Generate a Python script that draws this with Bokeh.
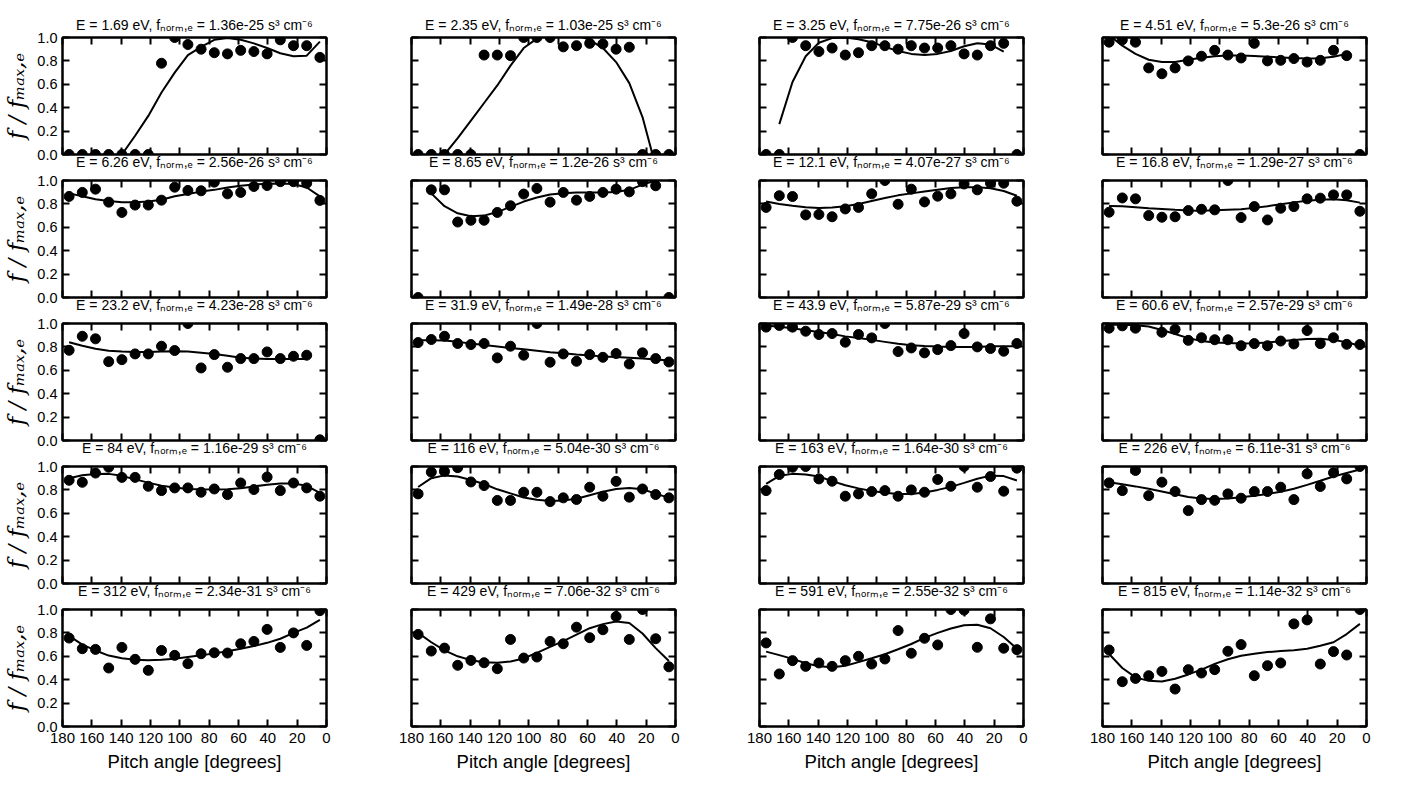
from bokeh.plotting import figure
from bokeh.layouts import column, row
from bokeh.models import Range1d, LinearAxis, FixedTicker, CustomJSTickFormatter, PrintfTickFormatter
from bokeh.embed import file_html
from bokeh.resources import INLINE

nan = float("nan")

# pitch-angle bin centres (degrees)
angles = [175.5, 166.5, 157.5, 148.5, 139.5, 130.5, 121.5, 112.5, 103.5, 94.5,
          85.5, 76.5, 67.5, 58.5, 49.5, 40.5, 31.5, 22.5, 13.5, 4.5]

energies = ["1.69", "2.35", "3.25", "4.51", "6.26", "8.65", "12.1", "16.8", "23.2", "31.9",
            "43.9", "60.6", "84", "116", "163", "226", "312", "429", "591", "815"]
fnorms = ["1.36e-25", "1.03e-25", "7.75e-26", "5.3e-26", "2.56e-26", "1.2e-26", "4.07e-27",
          "1.29e-27", "4.23e-28", "1.49e-28", "5.87e-29", "2.57e-29", "1.16e-29", "5.04e-30",
          "1.64e-30", "6.11e-31", "2.34e-31", "7.06e-32", "2.55e-32", "1.14e-32"]

xticks = [180, 160, 140, 120, 100, 80, 60, 40, 20, 0]
yticks = [0.0, 0.2, 0.4, 0.6, 0.8, 1.0]

pts_01 = [0, 0, 0, 0, 0, 0, 0, 0.78, 1.0, 0.94, 0.90, 0.87, 0.86, 0.89, 0.88, 0.86, 0.98, 0.93, 0.93, 0.83]
fit_01 = [-0.6, -0.4, -0.22, -0.08, 0.0, 0.16, 0.33, 0.53, 0.70, 0.85, 0.92, 0.98, 0.995, 0.98, 0.95, 0.91, 0.865, 0.84, 0.845, 0.965]
pts_02 = [0, 0, 0, 0, 0, 0.85, 0.85, 0.845, 1.0, 1.0, 1.0, 0.92, 0.93, 0.95, 0.945, 0.90, 0.917, 0, 0, 0]
fit_02 = [-0.3, -0.15, 0.0, 0.14, 0.29, 0.44, 0.59, 0.76, 0.91, 0.99, 1.02, 1.03, 1.02, 0.98, 0.91, 0.79, 0.61, 0.32, -0.1, -0.6]
pts_03 = [0, 0, 1.0, 0.93, 0.88, 0.91, 0.85, 0.87, 0.93, 0.93, 0.90, 0.93, 0.91, 0.91, 0.93, 0.86, 0.85, 0.93, 0.95, 0]
fit_03 = [nan, 0.26, 0.62, 0.84, 0.955, 0.995, 1.0, 0.985, 0.96, 0.92, 0.885, 0.86, 0.85, 0.86, 0.885, 0.925, 0.95, 0.94, 0.88, nan]
pts_04 = [0.96, 0.98, 0.96, 0.74, 0.69, 0.74, 0.80, 0.84, 0.89, 0.85, 0.825, 0.95, 0.80, 0.805, 0.82, 0.79, 0.805, 0.89, 0.845, 0.0]
fit_04 = [1.02, 0.93, 0.86, 0.81, 0.79, 0.79, 0.81, 0.826, 0.84, 0.847, 0.847, 0.842, 0.836, 0.83, 0.824, 0.82, 0.823, 0.835, 0.86, nan]
pts_05 = [0.864, 0.898, 0.926, 0.815, 0.727, 0.79, 0.79, 0.832, 0.943, 0.915, 0.912, 0.986, 0.886, 0.898, 0.949, 0.957, 0.99, 0.99, 0.977, 0.83]
fit_05 = [0.89, 0.865, 0.84, 0.825, 0.815, 0.815, 0.82, 0.835, 0.865, 0.885, 0.905, 0.92, 0.94, 0.955, 0.965, 0.972, 0.975, 0.97, 0.94, 0.865]
pts_06 = [0, 0.92, 0.92, 0.645, 0.66, 0.66, 0.727, 0.784, 0.884, 0.932, 0.815, 0.898, 0.832, 0.864, 0.898, 0.926, 0.903, 0.99, 0.955, 0]
fit_06 = [nan, 0.89, 0.78, 0.72, 0.695, 0.70, 0.73, 0.775, 0.82, 0.855, 0.88, 0.89, 0.897, 0.898, 0.898, 0.902, 0.92, 0.965, 1.0, nan]
pts_07 = [0.77, 0.87, 0.863, 0.706, 0.71, 0.69, 0.757, 0.77, 0.886, 1.0, 0.797, 0.926, 0.817, 0.866, 0.886, 0.97, 0.92, 0.977, 0.977, 0.823]
fit_07 = [0.82, 0.80, 0.785, 0.772, 0.766, 0.77, 0.78, 0.80, 0.825, 0.85, 0.873, 0.89, 0.905, 0.92, 0.935, 0.942, 0.942, 0.934, 0.91, 0.87]
pts_08 = [0.729, 0.851, 0.843, 0.70, 0.686, 0.69, 0.743, 0.754, 0.749, 1.0, 0.683, 0.777, 0.663, 0.763, 0.777, 0.843, 0.849, 0.877, 0.877, 0.737]
fit_08 = [0.783, 0.779, 0.772, 0.763, 0.756, 0.749, 0.743, 0.741, 0.746, 0.75, 0.754, 0.766, 0.78, 0.797, 0.813, 0.826, 0.835, 0.84, 0.832, 0.811]
pts_09 = [0.771, 0.891, 0.869, 0.674, 0.691, 0.74, 0.74, 0.806, 0.769, 1.0, 0.62, 0.734, 0.626, 0.70, 0.70, 0.757, 0.70, 0.72, 0.729, 0.006]
fit_09 = [0.84, 0.81, 0.785, 0.768, 0.76, 0.757, 0.757, 0.76, 0.763, 0.76, 0.75, 0.74, 0.725, 0.708, 0.70, 0.697, 0.697, 0.697, 0.697, nan]
pts_10 = [0.837, 0.863, 0.891, 0.829, 0.82, 0.829, 0.706, 0.806, 0.729, 1.0, 0.669, 0.74, 0.677, 0.734, 0.711, 0.743, 0.654, 0.749, 0.70, 0.671]
fit_10 = [0.857, 0.856, 0.854, 0.843, 0.830, 0.816, 0.804, 0.791, 0.78, 0.768, 0.755, 0.745, 0.735, 0.727, 0.719, 0.714, 0.708, 0.70, 0.693, 0.683]
pts_11 = [0.969, 0.983, 0.969, 0.934, 0.906, 0.914, 0.84, 0.906, 0.877, 1.0, 0.76, 0.791, 0.749, 0.777, 0.811, 0.914, 0.80, 0.786, 0.763, 0.829]
fit_11 = [0.983, 0.972, 0.96, 0.943, 0.927, 0.91, 0.89, 0.876, 0.86, 0.843, 0.826, 0.815, 0.807, 0.803, 0.80, 0.80, 0.80, 0.805, 0.806, 0.806]
pts_12 = [0.96, 0.98, 0.96, nan, 0.925, 0.95, 0.856, 0.878, 0.861, 0.861, 0.81, 0.828, 0.81, 0.85, 0.825, 0.94, 0.828, 0.878, 0.822, 0.82]
fit_12 = [0.99, 0.99, 0.985, 0.975, 0.945, 0.91, 0.875, 0.85, 0.837, 0.833, 0.829, 0.832, 0.838, 0.849, 0.86, 0.868, 0.87, 0.86, 0.84, 0.81]
pts_13 = [0.882, 0.865, 0.944, 0.994, 0.907, 0.907, 0.831, 0.794, 0.817, 0.817, 0.78, 0.808, 0.76, 0.859, 0.803, 0.91, 0.794, 0.859, 0.817, 0.746]
fit_13 = [0.90, 0.925, 0.936, 0.937, 0.92, 0.89, 0.862, 0.836, 0.82, 0.808, 0.805, 0.803, 0.806, 0.815, 0.83, 0.845, 0.855, 0.855, 0.835, 0.775]
pts_14 = [0.766, 0.952, 0.958, 0.99, 0.868, 0.837, 0.71, 0.71, 0.78, 0.78, 0.70, 0.732, 0.718, 0.823, 0.746, 0.873, 0.738, 0.808, 0.76, 0.732]
fit_14 = [0.825, 0.90, 0.924, 0.915, 0.885, 0.85, 0.805, 0.77, 0.735, 0.715, 0.705, 0.71, 0.725, 0.755, 0.785, 0.807, 0.816, 0.806, 0.768, 0.732]
pts_15 = [0.794, 0.931, 0.994, 1.0, 0.894, 0.874, 0.746, 0.766, 0.786, 0.794, 0.746, 0.80, 0.78, 0.889, 0.831, 1.0, 0.823, 0.914, 0.789, 0.986]
fit_15 = [0.851, 0.92, 0.937, 0.932, 0.915, 0.875, 0.84, 0.813, 0.79, 0.776, 0.764, 0.764, 0.778, 0.80, 0.826, 0.86, 0.895, 0.922, 0.918, 0.88]
pts_16 = [0.86, 0.794, 0.966, 0.751, 0.866, 0.786, 0.623, 0.717, 0.711, 0.766, 0.729, 0.786, 0.786, 0.823, 0.717, 0.937, 0.829, 0.946, 0.894, 1.0]
fit_16 = [0.866, 0.849, 0.83, 0.81, 0.787, 0.762, 0.74, 0.726, 0.723, 0.727, 0.737, 0.75, 0.765, 0.785, 0.81, 0.843, 0.878, 0.915, 0.945, 0.974]
pts_17 = [0.756, 0.665, 0.659, 0.50, 0.676, 0.574, 0.48, 0.65, 0.608, 0.537, 0.622, 0.63, 0.628, 0.707, 0.727, 0.83, 0.676, 0.80, 0.693, 0.99]
fit_17 = [0.775, 0.70, 0.65, 0.606, 0.583, 0.57, 0.566, 0.57, 0.58, 0.595, 0.608, 0.625, 0.643, 0.665, 0.688, 0.715, 0.75, 0.80, 0.845, 0.912]
pts_18 = [0.787, 0.645, 0.67, 0.523, 0.565, 0.545, 0.494, 0.744, 0.585, 0.594, 0.727, 0.707, 0.849, 0.759, 0.827, 0.94, 0.744, 1.0, 0.75, 0.51]
fit_18 = [0.80, 0.72, 0.65, 0.60, 0.567, 0.55, 0.545, 0.556, 0.582, 0.63, 0.68, 0.73, 0.785, 0.84, 0.875, 0.897, 0.885, 0.795, 0.67, 0.56]
pts_19 = [0.714, 0.449, 0.563, 0.514, 0.543, 0.514, 0.563, 0.60, 0.534, 0.577, 0.82, 0.626, 0.754, 0.697, 1.0, 0.995, 0.677, 0.92, 0.669, 0.657]
fit_19 = [0.64, 0.61, 0.578, 0.54, 0.515, 0.507, 0.52, 0.55, 0.583, 0.618, 0.66, 0.705, 0.758, 0.80, 0.838, 0.866, 0.87, 0.84, 0.765, 0.665]
pts_20 = [0.654, 0.383, 0.411, 0.434, 0.471, 0.32, 0.486, 0.457, 0.486, 0.643, 0.70, 0.434, 0.52, 0.543, 0.877, 0.911, 0.534, 0.64, 0.611, 1.0]
fit_20 = [0.62, 0.50, 0.42, 0.39, 0.385, 0.408, 0.445, 0.486, 0.535, 0.575, 0.605, 0.622, 0.636, 0.645, 0.652, 0.665, 0.69, 0.72, 0.79, 0.877]

points = [pts_01, pts_02, pts_03, pts_04, pts_05, pts_06, pts_07, pts_08, pts_09, pts_10,
          pts_11, pts_12, pts_13, pts_14, pts_15, pts_16, pts_17, pts_18, pts_19, pts_20]
fits = [fit_01, fit_02, fit_03, fit_04, fit_05, fit_06, fit_07, fit_08, fit_09, fit_10,
        fit_11, fit_12, fit_13, fit_14, fit_15, fit_16, fit_17, fit_18, fit_19, fit_20]

titles = [f"E = {e} eV, fₙₒᵣₘ,ₑ = {f} s³ cm⁻⁶" for e, f in zip(energies, fnorms)]

FW, FH = 264, 117
BL = [59, 75, 74, 69]
BR = [10, 10, 10, 10]
BT = [37, 8, 8, 8, 8]
BB = [18, 18, 18, 18, 50]
SANS = "Liberation Sans"
TITLE_SIZE = "14px"


def blank_axis(ax):
    ax.formatter = CustomJSTickFormatter(code="return ''")
    ax.major_label_text_font_size = "0px"
    ax.major_label_standoff = 0


def style_axis(ax, ticks):
    ax.ticker = FixedTicker(ticks=ticks)
    ax.major_tick_in = 7
    ax.major_tick_out = 0
    ax.minor_tick_line_color = None
    ax.major_tick_line_width = 2
    ax.major_tick_line_color = "black"
    ax.axis_line_width = 2
    ax.axis_line_color = "black"
    ax.major_label_text_font = SANS
    ax.major_label_text_font_size = "14.5px"
    ax.major_label_text_color = "black"
    ax.major_label_text_line_height = 1.0
    ax.axis_label_text_line_height = 1.0


rows = []
for r in range(5):
    figs = []
    for c in range(4):
        k = r * 4 + c
        p = figure(frame_width=FW, frame_height=FH,
                   x_range=Range1d(180, 0), y_range=Range1d(0, 1),
                   output_backend="svg", toolbar_location=None,
                   min_border_left=BL[c], min_border_right=BR[c],
                   min_border_top=BT[r], min_border_bottom=BB[r])
        p.xgrid.grid_line_color = None
        p.ygrid.grid_line_color = None
        p.outline_line_color = "black"
        p.outline_line_width = 2
        p.background_fill_color = "white"
        p.border_fill_color = "white"

        bottom = p.below[0]
        left = p.left[0]
        top = LinearAxis()
        right = LinearAxis()
        p.add_layout(top, "above")
        p.add_layout(right, "right")
        for ax in (bottom, top):
            style_axis(ax, xticks)
        for ax in (left, right):
            style_axis(ax, yticks)
        blank_axis(top)
        blank_axis(right)

        if r == 4:
            bottom.major_label_standoff = 6
            bottom.major_label_text_font_size = "15px"
            bottom.axis_label = "Pitch angle [degrees]"
            bottom.axis_label_text_font = SANS
            bottom.axis_label_text_font_style = "normal"
            bottom.axis_label_text_font_size = "18.5px"
            bottom.axis_label_text_color = "black"
            bottom.axis_label_standoff = 5
        else:
            # the title of the panel directly below sits in this gap
            blank_axis(bottom)
            bottom.axis_label = titles[k + 4]
            bottom.axis_label_text_font = SANS
            bottom.axis_label_text_font_style = "normal"
            bottom.axis_label_text_font_size = TITLE_SIZE
            bottom.axis_label_text_color = "black"
            bottom.axis_label_standoff = -1

        if c == 0:
            left.formatter = PrintfTickFormatter(format="%.1f")
            left.major_label_standoff = 5
            left.axis_label = "f / fₘₐₓ,ₑ"
            left.axis_label_text_font = "DejaVu Serif"
            left.axis_label_text_font_style = "italic"
            left.axis_label_text_font_size = "23px"
            left.axis_label_text_color = "black"
            left.axis_label_standoff = 5
        else:
            blank_axis(left)

        p.line(x=angles, y=fits[k], line_width=2, line_color="black")
        p.scatter(x=angles, y=points[k], size=10, fill_color="black", line_color="black")

        if r == 0:
            p.title.text = titles[k]
            p.title.align = "center"
            p.title.text_font = SANS
            p.title.text_font_size = TITLE_SIZE
            p.title.text_font_style = "normal"
            p.title.text_color = "black"
            p.title.text_line_height = 1.0
            p.title.standoff = 10
        figs.append(p)
    rows.append(row(*figs, spacing=0))

layout = column(*rows, spacing=0)
open("out.html", "w").write(file_html(layout, INLINE))
